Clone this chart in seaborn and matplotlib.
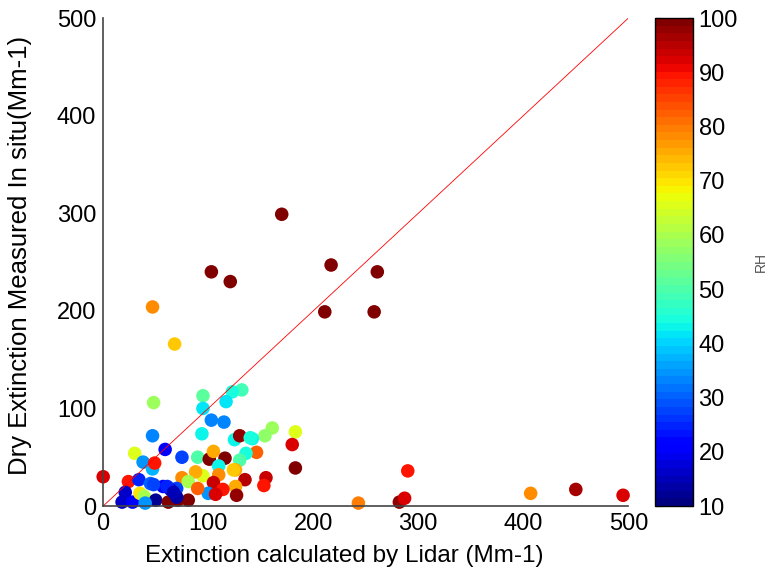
import numpy as np
import pandas as pd
import seaborn as sns
import matplotlib
matplotlib.use('Agg')
import matplotlib.pyplot as plt
from matplotlib.colors import Normalize
from matplotlib.cm import ScalarMappable

####

lidar = [0, 47, 68, 103, 121, 170, 217, 261, 211, 258,
         132, 161, 154, 183, 180, 183, 290, 243, 282, 287,
         407, 450, 495, 155, 153, 135, 146, 136, 130, 142,
         125, 126, 126, 127, 95, 95, 123, 117, 103, 115,
         94, 48, 47, 59, 130, 30, 38, 47, 49, 75,
         24, 34, 21, 18, 28, 35, 39, 45, 57, 67,
         50, 40, 62, 71, 81, 75, 70, 90, 101, 105,
         116, 110, 124, 110, 95, 88, 81, 105, 114, 100,
         107, 90, 64, 70, 140, 48, 61, 67]
insitu = [30, 204, 166, 240, 230, 299, 247, 240, 199, 199,
          119, 80, 72, 76, 63, 39, 36, 3, 4, 8,
          13, 17, 11, 29, 21, 27, 55, 54, 47, 69,
          68, 37, 20, 11, 113, 100, 117, 107, 88, 86,
          74, 106, 72, 58, 72, 54, 45, 38, 44, 50,
          25, 27, 14, 4, 4, 13, 10, 23, 20, 14,
          6, 3, 4, 6, 6, 29, 18, 50, 48, 56,
          49, 41, 37, 32, 31, 35, 25, 24, 17, 13,
          12, 18, 17, 9, 70, 22, 20, 14]
rh = [92, 78, 72, 100, 100, 100, 100, 100, 100, 100,
      48, 58, 57, 66, 92, 100, 90, 80, 98, 92,
      78, 97, 92, 94, 90, 95, 83, 45, 50, 43,
      43, 75, 76, 98, 52, 42, 44, 42, 33, 33,
      43, 58, 33, 20, 98, 66, 35, 37, 90, 28,
      90, 25, 17, 17, 20, 70, 60, 30, 22, 18,
      12, 35, 100, 100, 100, 78, 28, 50, 100, 75,
      100, 43, 72, 78, 66, 75, 60, 93, 90, 35,
      92, 82, 15, 14, 45, 28, 25, 15]

df = pd.DataFrame({'lidar': lidar, 'insitu': insitu, 'RH': rh})

sns.set_style('white')
plt.rcParams['font.family'] = ['Liberation Sans', 'DejaVu Sans']

fig = plt.figure(figsize=(7.7, 5.76), dpi=100)
ax = fig.add_axes([0.134, 0.1215, 0.682, 0.847])
cax = fig.add_axes([0.851, 0.1215, 0.049, 0.847])

cmap = plt.get_cmap('jet', 64)
norm = Normalize(vmin=10, vmax=100)

# 1:1 line
ax.plot([0, 500], [0, 500], color='red', lw=0.6)

sns.scatterplot(data=df, x='lidar', y='insitu', hue='RH', palette=cmap,
                hue_norm=norm, s=95, linewidth=0, legend=False, ax=ax)
for coll in ax.collections:
    coll.set_clip_on(False)

ax.set_xlim(0, 500)
ax.set_ylim(0, 500)
ax.set_xticks(range(0, 501, 100))
ax.set_yticks(range(0, 501, 100))
ax.set_xlabel('Extinction calculated by Lidar (Mm-1)', fontsize=17.5, color='black')
ax.set_ylabel('Dry Extinction Measured In situ(Mm-1)', fontsize=18.5, color='black')
ax.xaxis.set_label_coords(0.459, -0.080)
ax.yaxis.set_label_coords(-0.135, 0.514)
ax.tick_params(direction='in', length=5, width=1, labelsize=17, colors='black', pad=5)
for side in ['top', 'right']:
    ax.spines[side].set_visible(False)
for side in ['left', 'bottom']:
    ax.spines[side].set_color('#444444')
    ax.spines[side].set_linewidth(1.2)

sm = ScalarMappable(norm=norm, cmap=cmap)
cb = fig.colorbar(sm, cax=cax)
cb.set_ticks(range(10, 101, 10))
cb.ax.tick_params(direction='in', length=4, labelsize=17, left=True, right=True,
                  pad=4, colors='black')
cb.outline.set_linewidth(1)
cb.outline.set_edgecolor('black')
fig.text(0.988, 1 - 262 / 576, 'RH', rotation=90, fontsize=10, color='#555555',
         ha='center', va='center')

fig.savefig('out.png', dpi=100)
